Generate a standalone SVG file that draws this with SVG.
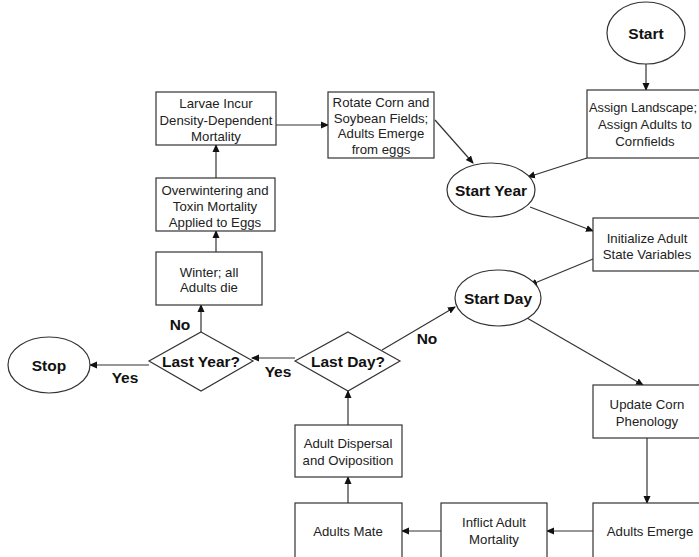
<svg xmlns="http://www.w3.org/2000/svg" width="699" height="557" viewBox="0 0 699 557">
<style>
.box{fill:#fff;stroke:#333;stroke-width:1.2}
.t{font-family:"Liberation Sans",Arial,sans-serif;font-size:13.2px;fill:#222;text-anchor:middle}
.b{font-family:"Liberation Sans",Arial,sans-serif;font-size:15.5px;font-weight:bold;fill:#111;text-anchor:middle}
.c{stroke:#333;stroke-width:1.2;fill:none;marker-end:url(#ah)}
</style>
<defs>
<marker id="ah" markerWidth="8" markerHeight="8" refX="7" refY="4" orient="auto" markerUnits="userSpaceOnUse">
<path d="M0,0.5 L8,4 L0,7.5 Z" fill="#111"/>
</marker>
</defs>
<rect width="699" height="557" fill="#fff"/>
<g id="connectors">
<line class="c" x1="646" y1="64" x2="646" y2="90"/>
<line class="c" x1="587" y1="158" x2="528" y2="177"/>
<line class="c" x1="530" y1="207" x2="593" y2="231"/>
<line class="c" x1="593" y1="259" x2="530" y2="285"/>
<line class="c" x1="527" y1="318" x2="643" y2="385"/>
<line class="c" x1="647" y1="438" x2="647" y2="503"/>
<line class="c" x1="593" y1="531" x2="547" y2="531"/>
<line class="c" x1="441" y1="531" x2="402" y2="531"/>
<line class="c" x1="348" y1="503" x2="348" y2="477"/>
<line class="c" x1="348" y1="425" x2="348" y2="391"/>
<line class="c" x1="295" y1="358" x2="252" y2="358"/>
<line class="c" x1="149" y1="365" x2="90" y2="365"/>
<line class="c" x1="201" y1="332" x2="201" y2="305"/>
<line class="c" x1="216" y1="252" x2="216" y2="231"/>
<line class="c" x1="216" y1="178" x2="216" y2="145"/>
<line class="c" x1="276" y1="125" x2="328" y2="125"/>
<line class="c" x1="435" y1="120" x2="473" y2="163"/>
<line class="c" x1="382" y1="350" x2="455" y2="307"/>
<text class="b" x="278" y="377">Yes</text>
<text class="b" x="125" y="383">Yes</text>
<text class="b" x="180" y="330">No</text>
<text class="b" x="427" y="344">No</text>
</g>
<g id="start">
<ellipse class="box" cx="646" cy="33" rx="39" ry="31"/>
<text class="b" x="646" y="39">Start</text>
</g>
<g id="assign">
<rect class="box" x="587" y="90" width="120" height="68"/>
<text class="t" x="643" y="112" textLength="108" lengthAdjust="spacingAndGlyphs">Assign Landscape;</text>
<text class="t" x="645" y="129">Assign Adults to</text>
<text class="t" x="645" y="146">Cornfields</text>
</g>
<g id="startYear">
<ellipse class="box" cx="491" cy="190" rx="44" ry="27"/>
<text class="b" x="491" y="196">Start Year</text>
</g>
<g id="init">
<rect class="box" x="593" y="218" width="114" height="53"/>
<text class="t" x="647" y="243">Initialize Adult</text>
<text class="t" x="647" y="259">State Variables</text>
</g>
<g id="startDay">
<ellipse class="box" cx="498" cy="298" rx="43" ry="28"/>
<text class="b" x="498" y="304">Start Day</text>
</g>
<g id="updateCorn">
<rect class="box" x="593" y="385" width="114" height="53"/>
<text class="t" x="647" y="409">Update Corn</text>
<text class="t" x="647" y="426">Phenology</text>
</g>
<g id="adultsEmerge">
<rect class="box" x="593" y="503" width="114" height="60"/>
<text class="t" x="650" y="536">Adults Emerge</text>
</g>
<g id="inflict">
<rect class="box" x="441" y="503" width="106" height="60"/>
<text class="t" x="494" y="527">Inflict Adult</text>
<text class="t" x="494" y="544">Mortality</text>
</g>
<g id="adultsMate">
<rect class="box" x="295" y="503" width="107" height="60"/>
<text class="t" x="348" y="536">Adults Mate</text>
</g>
<g id="dispersal">
<rect class="box" x="295" y="425" width="107" height="52"/>
<text class="t" x="348" y="448">Adult Dispersal</text>
<text class="t" x="348" y="465">and Oviposition</text>
</g>
<g id="lastDay">
<polygon class="box" points="348,332 400,361 348,391 295,361"/>
<text class="b" x="348" y="367">Last Day?</text>
</g>
<g id="lastYear">
<polygon class="box" points="201,332 253,361 201,391 149,361"/>
<text class="b" x="201" y="367">Last Year?</text>
</g>
<g id="stop">
<ellipse class="box" cx="49" cy="365" rx="41" ry="28"/>
<text class="b" x="49" y="371">Stop</text>
</g>
<g id="winter">
<rect class="box" x="156" y="252" width="106" height="53"/>
<text class="t" x="209" y="277">Winter; all</text>
<text class="t" x="209" y="292">Adults die</text>
</g>
<g id="overwinter">
<rect class="box" x="156" y="178" width="119" height="53"/>
<text class="t" x="215" y="195">Overwintering and</text>
<text class="t" x="215" y="211">Toxin Mortality</text>
<text class="t" x="215" y="227">Applied to Eggs</text>
</g>
<g id="larvae">
<rect class="box" x="156" y="92" width="120" height="53"/>
<text class="t" x="216" y="108">Larvae Incur</text>
<text class="t" x="216" y="125">Density-Dependent</text>
<text class="t" x="216" y="141">Mortality</text>
</g>
<g id="rotate">
<rect class="box" x="328" y="92" width="106" height="66"/>
<text class="t" x="381" y="107">Rotate Corn and</text>
<text class="t" x="381" y="123">Soybean Fields;</text>
<text class="t" x="381" y="138">Adults Emerge</text>
<text class="t" x="381" y="154">from eggs</text>
</g>
</svg>
